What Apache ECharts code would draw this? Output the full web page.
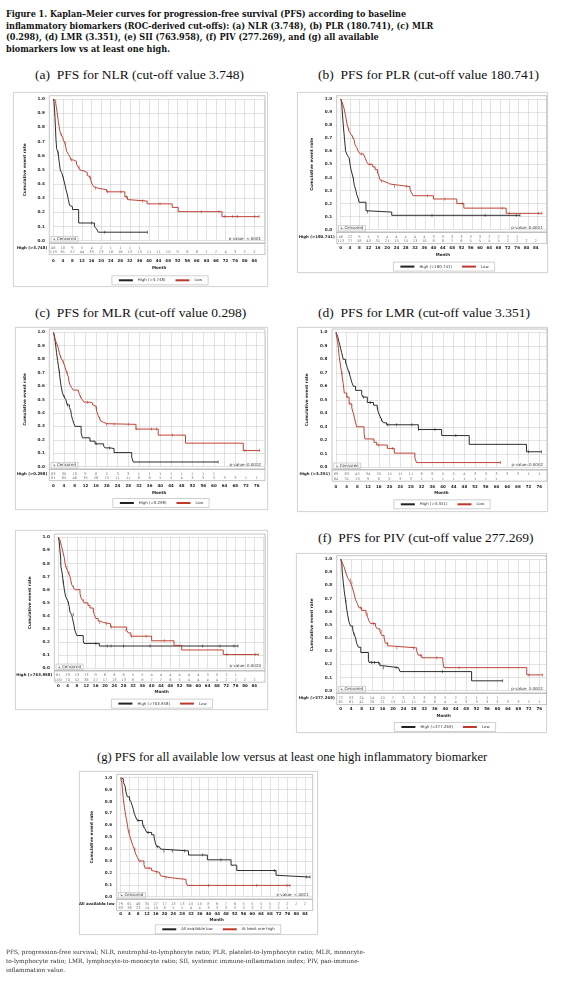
<!DOCTYPE html>
<html>
<head>
<meta charset="utf-8">
<script src="https://cdn.jsdelivr.net/npm/echarts@6/dist/echarts.min.js"></script>
<style>
body{margin:0;background:#fff;width:564px;height:981px;position:relative;overflow:hidden}
.cap{position:absolute;left:6px;top:9px;font:bold 9px/11.7px "DejaVu Serif Condensed","DejaVu Serif",serif;color:#111;white-space:nowrap}
.ttl{position:absolute;font:13.5px/16px "Liberation Serif",serif;color:#111;white-space:nowrap}
.box{position:absolute;border:1px solid #d6d6d6;box-sizing:border-box;background:#fff;box-shadow:0 0 1px #e4e4e4}
.ch{position:absolute}
.foot{position:absolute;left:6px;top:948px;font:5.9px/9px "DejaVu Serif",serif;color:#333;white-space:nowrap;will-change:transform}
</style>
</head>
<body>
<div class="cap">Figure 1. Kaplan–Meier curves for progression-free survival (PFS) according to baseline<br>inflammatory biomarkers (ROC-derived cut-offs): (a) NLR (3.748), (b) PLR (180.741), (c) MLR<br>(0.298), (d) LMR (3.351), (e) SII (763.958), (f) PIV (277.269), and (g) all available<br>biomarkers low vs at least one high.</div>
<div class="ttl" style="left:35px;top:67px">(a)&nbsp; PFS for NLR (cut-off value 3.748)</div>
<div class="ttl" style="left:318px;top:67px">(b)&nbsp; PFS for PLR (cut-off value 180.741)</div>
<div class="ttl" style="left:35px;top:305px">(c)&nbsp; PFS for MLR (cut-off value 0.298)</div>
<div class="ttl" style="left:318px;top:305px">(d)&nbsp; PFS for LMR (cut-off value 3.351)</div>
<div class="ttl" style="left:318px;top:530px">(f)&nbsp; PFS for PIV (cut-off value 277.269)</div>
<div class="ttl" style="left:97px;top:749px;font-size:12.6px">(g) PFS for all available low versus at least one high inflammatory biomarker</div>
<div class="foot">PFS, progression-free survival; NLR, neutrophil-to-lymphocyte ratio; PLR, platelet-to-lymphocyte ratio; MLR, monocyte-<br>to-lymphocyte ratio; LMR, lymphocyte-to-monocyte ratio; SII, systemic immune-inflammation index; PIV, pan-immune-<br>inflammation value.</div>
<script>
// survival curves: [month, survival]; censored marks; numbers at risk every 4 months
const nlrHigh = [[0,1],[0.3,0.98],[0.5,0.93],[0.7,0.87],[0.9,0.8],[1.1,0.72],[1.4,0.65],[2,0.62],[2.5,0.55],[2.9,0.5],[3.5,0.48],[4.2,0.44],[4.8,0.4],[5.3,0.36],[5.8,0.33],[6.3,0.29],[6.8,0.25],[7.3,0.24],[8,0.22],[10.6,0.125],[17.2,0.1],[18,0.085],[18.8,0.06],[39.3,0.06]];
const nlrHighCens = [[2,0.62],[4.2,0.44],[16,0.125],[21.5,0.06],[39.3,0.06]];
const nlrLow = [[0,1],[0.4,0.99],[1,0.97],[1.4,0.93],[1.8,0.88],[2.1,0.84],[2.5,0.8],[2.8,0.77],[3.2,0.75],[3.9,0.73],[4.2,0.71],[4.9,0.69],[5.2,0.66],[5.6,0.63],[6.3,0.61],[7,0.59],[7.4,0.57],[8.4,0.56],[9.7,0.54],[10.4,0.52],[11.1,0.5],[11.8,0.49],[13.2,0.48],[14.2,0.46],[14.8,0.45],[15.6,0.43],[16.2,0.4],[17,0.38],[17.7,0.37],[18.8,0.36],[22.3,0.345],[29.9,0.31],[31,0.29],[31.5,0.28],[39.2,0.26],[49.7,0.235],[52.2,0.205],[70.5,0.17],[86,0.17]];
const nlrLowCens = [[3.3,0.75],[4.9,0.69],[7.6,0.57],[10.8,0.52],[15.2,0.45],[17.7,0.37],[22.6,0.345],[28.3,0.345],[30.5,0.31],[37.3,0.28],[44.6,0.26],[62,0.205],[69.2,0.205],[71.7,0.17],[75,0.17],[77,0.17],[84,0.17],[86,0.17]];
const nlrRiskHigh = [46,18,9,5,4,2,1,1,1,1];
const nlrRiskLow = [119,81,57,44,33,23,18,16,13,13,11,11,10,9,8,8,7,7,4,3,2,2];

const plrHigh = [[0,1],[0.4,0.98],[0.7,0.9],[1.1,0.8],[1.6,0.7],[2.1,0.6],[2.8,0.57],[3.6,0.55],[4,0.5],[4.4,0.46],[5,0.42],[5.4,0.39],[5.8,0.34],[6.5,0.3],[6.8,0.27],[7.5,0.24],[7.8,0.21],[10.8,0.145],[11.4,0.135],[21.8,0.11],[76.6,0.11]];
const plrHighCens = [[5.4,0.39],[11.4,0.135],[39,0.11],[61.7,0.11],[75,0.11],[76.6,0.11]];
const plrLow = [[0,1],[0.7,0.97],[1.4,0.93],[2,0.88],[2.3,0.85],[2.8,0.8],[3.3,0.77],[3.7,0.75],[4.4,0.73],[5.1,0.71],[5.7,0.69],[6.1,0.65],[6.8,0.63],[7.5,0.6],[8.3,0.58],[9.7,0.57],[10.4,0.55],[11.1,0.52],[11.8,0.5],[13.7,0.48],[14.7,0.46],[15.7,0.44],[16.2,0.42],[16.8,0.38],[17.5,0.37],[18.5,0.36],[19.9,0.35],[21,0.345],[22.8,0.33],[29.6,0.31],[30.3,0.28],[31,0.26],[39.6,0.235],[49.6,0.2],[52.6,0.165],[70.7,0.125],[86,0.125]];
const plrLowCens = [[3.5,0.77],[5.1,0.71],[8.8,0.58],[12.5,0.5],[15.9,0.44],[17.5,0.37],[23,0.33],[28,0.33],[37,0.26],[44.5,0.235],[52,0.2],[69,0.165],[72,0.125],[84.5,0.125],[86,0.125]];
const plrRiskHigh = [46,22,9,5,5,4,4,4,4,4,3,3,3,3,3,3,2,2,2,1];
const plrRiskLow = [113,77,58,43,31,21,15,15,13,10,8,8,7,6,5,5,5,5,2,2,2,2];

const mlrHigh = [[0,1],[0.4,0.98],[0.6,0.95],[0.9,0.9],[1.2,0.85],[1.6,0.79],[1.9,0.75],[2.2,0.71],[2.5,0.66],[2.9,0.6],[3.4,0.55],[4,0.52],[4.7,0.5],[5.2,0.46],[6,0.44],[6.5,0.42],[6.8,0.38],[7.2,0.35],[7.7,0.32],[8.1,0.3],[10.4,0.25],[10.9,0.215],[13.7,0.19],[15.6,0.17],[18.8,0.155],[19.3,0.14],[21.2,0.135],[22.7,0.105],[29.3,0.07],[29.9,0.035],[61.6,0.035]];
const mlrHighCens = [[2.3,0.71],[4.1,0.52],[5.3,0.46],[16,0.17],[21,0.14],[61.6,0.035]];
const mlrLow = [[0,1],[0.6,0.95],[1.2,0.92],[1.9,0.88],[2.2,0.85],[2.7,0.82],[3.1,0.8],[3.7,0.78],[4.4,0.74],[5,0.7],[5.6,0.67],[5.9,0.63],[6.2,0.61],[6.8,0.59],[7.5,0.57],[9.3,0.565],[9.7,0.54],[10.2,0.52],[10.8,0.5],[11.5,0.48],[13.7,0.475],[14.7,0.46],[15.2,0.45],[16,0.44],[16.2,0.41],[16.8,0.38],[17.2,0.36],[17.7,0.34],[18.1,0.33],[18.9,0.32],[19.9,0.315],[30.9,0.28],[39.2,0.235],[49.4,0.175],[71,0.12],[77,0.12]];
const mlrLowCens = [[2.7,0.82],[3.7,0.78],[5.2,0.7],[10.2,0.52],[12.7,0.48],[16,0.44],[17.4,0.36],[19.9,0.315],[22.7,0.315],[28,0.315],[30.9,0.28],[36.7,0.28],[38.6,0.28],[44.6,0.235],[71.6,0.12],[77,0.12]];
const mlrRiskHigh = [63,30,19,9,6,5,3,3,1,1,1,1,1,1,1,1];
const mlrRiskLow = [91,65,46,35,26,15,11,11,8,8,5,5,4,3,3,3,3,3,1,1];

const lmrHigh = [[0,1],[0.6,0.97],[1.1,0.93],[1.5,0.9],[2.1,0.85],[2.7,0.8],[3.6,0.78],[4.2,0.74],[4.9,0.7],[5.5,0.66],[5.9,0.63],[6.5,0.6],[7.3,0.57],[9.6,0.54],[10.1,0.52],[11.7,0.48],[14,0.46],[15.4,0.44],[15.8,0.41],[16.4,0.38],[17.1,0.35],[17.7,0.33],[18.9,0.315],[30.8,0.28],[39.5,0.235],[49.8,0.17],[71.2,0.115],[76.8,0.115]];
const lmrHighCens = [[3.6,0.78],[5,0.7],[10.2,0.52],[12.8,0.48],[15.6,0.44],[17,0.35],[19.4,0.315],[22.7,0.315],[28.4,0.315],[30.9,0.28],[37,0.28],[44.8,0.235],[71.9,0.115],[76.8,0.115]];
const lmrLow = [[0,1],[0.1,0.98],[0.6,0.93],[0.9,0.88],[1.2,0.82],[1.7,0.75],[2.1,0.7],[2.7,0.62],[3.1,0.55],[4,0.52],[4.9,0.47],[5.9,0.44],[6.5,0.4],[7.1,0.35],[7.7,0.3],[10.5,0.25],[10.8,0.21],[14.2,0.185],[15.2,0.165],[19.2,0.14],[21.8,0.105],[29.5,0.07],[30.1,0.035],[61.5,0.035]];
const lmrLowCens = [[2.3,0.7],[4.2,0.52],[5.2,0.47],[15.8,0.165],[21.2,0.14],[61.5,0.035]];
const lmrRiskHigh = [89,63,45,34,25,15,11,11,8,8,5,5,4,3,3,3,3,3,1,1];
const lmrRiskLow = [64,31,19,9,6,5,3,3,1,1,1,1,1,1,1,1];

const siiHigh = [[0,1],[0.4,0.97],[0.7,0.9],[1,0.85],[1.1,0.78],[1.7,0.72],[2.1,0.66],[2.6,0.6],[3.1,0.55],[3.9,0.52],[4.3,0.5],[4.7,0.47],[5,0.43],[5.7,0.41],[6.1,0.38],[6.7,0.33],[7.1,0.29],[7.9,0.25],[10.7,0.21],[11,0.19],[17.6,0.17],[77,0.17]];
const siiHighCens = [[2.1,0.66],[4.3,0.5],[6.4,0.41],[16.1,0.19],[21,0.17],[22.6,0.17],[28,0.17],[39.3,0.17],[61.9,0.17],[69.3,0.17],[75.3,0.17],[77,0.17]];
const siiLow = [[0,1],[0.7,0.98],[1.4,0.93],[2.1,0.88],[2.6,0.84],[2.9,0.8],[3.3,0.77],[3.9,0.75],[4.3,0.73],[5,0.7],[5.4,0.67],[5.7,0.64],[6.4,0.62],[7.1,0.6],[9.3,0.57],[9.7,0.54],[10.4,0.52],[11,0.5],[12.7,0.48],[13.6,0.46],[15,0.44],[15.4,0.41],[16.1,0.38],[17.1,0.36],[18.1,0.35],[19.3,0.34],[22.4,0.315],[29.3,0.29],[30,0.27],[31.1,0.245],[40,0.21],[49.6,0.175],[52.9,0.14],[70.7,0.105],[85.7,0.105]];
const siiLowCens = [[3.7,0.77],[4.6,0.73],[6.6,0.62],[10.7,0.52],[15.2,0.44],[17.8,0.35],[20.6,0.34],[22.7,0.315],[29,0.29],[31.3,0.245],[37.6,0.245],[45.4,0.21],[72.3,0.105],[84.4,0.105],[85.7,0.105]];
const siiRiskHigh = [61,29,13,13,9,8,6,6,5,5,4,4,4,4,4,4,3,3,2,1];
const siiRiskLow = [100,70,52,38,27,17,13,13,8,8,7,7,6,5,4,4,4,4,2,2,2,2];

const pivHigh = [[0,1],[0.4,0.97],[0.6,0.9],[1,0.82],[1.4,0.75],[1.9,0.68],[2.3,0.62],[2.7,0.57],[3.2,0.52],[3.8,0.49],[4.6,0.46],[5.1,0.43],[5.7,0.4],[6.1,0.36],[6.8,0.33],[7.7,0.29],[10.6,0.24],[10.8,0.215],[14.2,0.21],[15,0.19],[16,0.175],[22.1,0.16],[22.7,0.145],[50.1,0.075],[62,0.075]];
const pivHighCens = [[2,0.68],[5.1,0.43],[11.8,0.215],[13,0.215],[14.5,0.21],[16.3,0.175],[21.2,0.175],[39,0.145],[62,0.075]];
const pivLow = [[0,1],[0.6,0.97],[1.3,0.94],[1.9,0.9],[2.6,0.86],[3.2,0.84],[3.8,0.82],[4.5,0.78],[5.1,0.74],[5.7,0.69],[6.4,0.66],[7,0.63],[8,0.61],[9.7,0.58],[10.3,0.56],[10.8,0.53],[11.5,0.51],[13.3,0.49],[14,0.47],[15,0.45],[15.7,0.42],[16.6,0.4],[17.1,0.36],[18,0.34],[19.1,0.325],[29.1,0.3],[29.7,0.27],[31,0.25],[39.1,0.22],[39.5,0.175],[71.2,0.12],[77.3,0.12]];
const pivLowCens = [[3.8,0.84],[4.3,0.82],[7.5,0.63],[10.3,0.58],[12.5,0.51],[15.5,0.45],[17.9,0.36],[21.5,0.325],[27.8,0.325],[30.6,0.27],[36.8,0.25],[45.3,0.175],[72,0.12],[77.3,0.12]];
const pivRiskHigh = [72,33,24,14,10,7,3,3,3,3,2,2,2,1,1,1];
const pivRiskLow = [81,61,41,29,21,13,11,11,6,6,4,4,3,3,3,3,3,3,1,1];

const allLow = [[0,1],[0.5,0.99],[1.2,0.96],[2,0.93],[2.4,0.88],[3,0.84],[4,0.82],[4.6,0.8],[5.2,0.77],[5.8,0.73],[6.2,0.7],[6.8,0.67],[7.6,0.64],[9.9,0.62],[10.3,0.59],[11.1,0.57],[11.9,0.54],[14.1,0.52],[15.2,0.5],[15.8,0.45],[16.4,0.42],[17.6,0.41],[18.2,0.4],[19.1,0.385],[30.9,0.35],[39.5,0.31],[50.3,0.265],[52.9,0.22],[70.8,0.18],[71.6,0.165],[86.3,0.165]];
const allLowCens = [[4.1,0.82],[7.9,0.64],[10.6,0.59],[12.5,0.54],[16.7,0.42],[19.7,0.385],[23.5,0.385],[29,0.385],[37.4,0.35],[45.7,0.31],[70,0.22],[84.6,0.165],[86.3,0.165]];
const anyHigh = [[0,1],[0.5,0.96],[0.8,0.9],[1.2,0.82],[1.7,0.75],[2.3,0.68],[3,0.61],[3.5,0.55],[4.3,0.5],[5,0.46],[5.5,0.43],[6.2,0.4],[6.8,0.36],[7.6,0.33],[8.4,0.3],[10.6,0.27],[11.1,0.24],[14.1,0.22],[14.9,0.205],[17.6,0.19],[18.2,0.175],[19.1,0.16],[22.9,0.145],[29.8,0.12],[30.4,0.095],[77.2,0.095]];
const anyHighCens = [[4.1,0.55],[6.5,0.4],[8.8,0.3],[12.9,0.24],[16.2,0.205],[20.6,0.16],[40,0.095],[62,0.095],[75.8,0.095],[77.2,0.095]];
const allRiskLow = [79,61,46,35,27,17,13,13,10,10,8,8,7,6,5,5,5,5,2,2,2,2];
const allRiskHigh = [83,38,23,14,10,8,5,5,4,4,3,3,3,3,3,3,2,2,2,1];

const FONT = 'DejaVu Sans';
const BLACK = '#222', RED = '#bd3a2c';
const PAD = 14;

const meas = document.createElement('canvas').getContext('2d');
function textW(s, size) {
    meas.font = size + 'px "' + FONT + '"';
    return meas.measureText(s).width;
}

// lay: page px of box, x=0 / last tick, frame right, y=1 / y=0, label rows
function drawPanel(p) {
    const L = p.lay;
    const ox = L.box[0] - PAD, oy = L.box[1];
    const W = L.box[2] - ox, H = L.box[3] - oy;

    const box = document.createElement('div');
    box.className = 'box';
    box.style.cssText = 'left:' + L.box[0] + 'px;top:' + L.box[1] + 'px;width:' + (L.box[2] - L.box[0]) + 'px;height:' + H + 'px';
    document.body.appendChild(box);
    const el = document.createElement('div');
    el.className = 'ch';
    el.style.cssText = 'left:' + ox + 'px;top:' + oy + 'px;width:' + W + 'px;height:' + H + 'px';
    document.body.appendChild(el);

    const x0 = L.x0 - ox;
    const right = L.box[2] - L.frameR;
    const pxm = (L.xLast - L.x0) / p.last;
    const xMax = (L.frameR - L.x0) / pxm;
    const y1 = L.y1 - oy, y0 = L.y0 - oy;
    const fTop = y1 - 3.3, fBot = y0 + 2.5;
    const rH = y0 + 7, rL = y0 + 11.3, tBot = rL + 2.6;
    const tdTop = rH - 2.15, tdBot = rL + 2.15;

    const lfs = 3.9;
    const lw = 12 + 2 * (14 + 3) + textW(p.names[0], lfs) + 9 + textW(p.names[1], lfs);

    const hidden = {show: false, min: 0, max: 1};
    const chart = echarts.init(el);
    chart.setOption({
        animation: false,
        textStyle: {fontFamily: FONT},
        grid: [
            {left: x0 - 4, top: fTop, right: right, height: fBot - fTop, show: true, borderColor: '#a0a0a0', borderWidth: 0.6},
            {left: x0, top: y1, right: right, height: y0 - y1},
            {left: x0 - 4, top: fBot, right: right, height: tBot - fBot, show: true, borderColor: '#a0a0a0', borderWidth: 0.6},
            {left: x0, top: tdTop, right: right, height: tdBot - tdTop}
        ],
        xAxis: [
            Object.assign({gridIndex: 0, type: 'value'}, hidden),
            {gridIndex: 1, type: 'value', min: 0, max: xMax, interval: 4,
                axisLine: {show: false}, axisTick: {show: false}, axisLabel: {show: false},
                splitLine: {lineStyle: {color: '#cfcfcf', width: 0.6}}},
            Object.assign({gridIndex: 2, type: 'value'}, hidden),
            {gridIndex: 3, type: 'value', min: 0, max: xMax, interval: 4,
                axisLine: {show: false}, axisTick: {show: false}, splitLine: {show: false},
                axisLabel: {showMaxLabel: false, fontSize: 4, fontWeight: 'bold', color: '#222',
                    margin: (L.labelY - oy) - 2 - tdBot,
                    formatter: v => (v <= p.last ? String(v) : '')},
                name: 'Month', nameLocation: 'middle', nameGap: (L.monthY - oy) - 2 - tdBot,
                nameTextStyle: {fontSize: 4, fontWeight: 'bold', color: '#222'}}
        ],
        yAxis: [
            Object.assign({gridIndex: 0, type: 'value'}, hidden),
            {gridIndex: 1, type: 'value', min: 0, max: 1, interval: 0.1,
                axisLine: {show: false}, axisTick: {show: false},
                axisLabel: {fontSize: 4.2, fontWeight: 'bold', color: '#333', margin: 8.5,
                    formatter: v => v.toFixed(1)},
                splitLine: {lineStyle: {color: '#cfcfcf', width: 0.6}},
                name: 'Cumulative event rate', nameLocation: 'middle', nameGap: 20,
                nameTextStyle: {fontSize: 4.2, fontWeight: 'bold', color: '#222'}},
            Object.assign({gridIndex: 2, type: 'value'}, hidden),
            {gridIndex: 3, type: 'category', inverse: true, data: p.rows,
                axisLine: {show: false}, axisTick: {show: false},
                axisLabel: {fontSize: 3.9, fontWeight: 'bold', color: '#222', margin: 6}}
        ],
        legend: {
            data: p.names, left: L.legendX - ox - lw / 2, top: L.legendY - oy - 4.2,
            itemWidth: 14, itemHeight: 1, itemGap: 9, padding: [2.5, 6],
            borderColor: '#a0a0a0', borderWidth: 0.5,
            textStyle: {fontSize: lfs, color: '#333'}
        },
        graphic: [
            {type: 'group', left: x0 - 2.5, top: fBot - 7, children: [
                {type: 'rect', shape: {x: 0, y: 0, width: 27, height: 5.6},
                    style: {fill: '#fff', stroke: '#a0a0a0', lineWidth: 0.5}},
                {type: 'text', x: 1.8, y: 2.9, style: {text: '▲', fontSize: 3, fill: '#2f5fc0', verticalAlign: 'middle'}},
                {type: 'text', x: 6, y: 2.9, style: {text: 'Censored', fontSize: 4, fill: '#333', verticalAlign: 'middle', fontFamily: FONT}}
            ]},
            {type: 'text', right: right + 4, top: y0 - 4.2,
                style: {text: p.pval, fontSize: 4, fill: '#333', fontFamily: FONT}}
        ],
        series: [
            {name: p.names[0], type: 'line', step: 'end', xAxisIndex: 1, yAxisIndex: 1, data: p.curves[0],
                symbol: 'none', color: BLACK, lineStyle: {width: 0.95}},
            {name: p.names[1], type: 'line', step: 'end', xAxisIndex: 1, yAxisIndex: 1, data: p.curves[1],
                symbol: 'none', color: RED, lineStyle: {width: 0.95}},
            {type: 'scatter', xAxisIndex: 1, yAxisIndex: 1, data: p.cens[0], symbol: 'rect',
                symbolSize: [0.7, 3], color: BLACK, silent: true},
            {type: 'scatter', xAxisIndex: 1, yAxisIndex: 1, data: p.cens[1], symbol: 'rect',
                symbolSize: [0.7, 3], color: RED, silent: true},
            riskSeries(p.risk[0], 0),
            riskSeries(p.risk[1], 1)
        ]
    });
}

function riskSeries(vals, row) {
    return {type: 'scatter', xAxisIndex: 3, yAxisIndex: 3, symbolSize: 0, silent: true,
        data: vals.map((v, i) => [i * 4, row, v]),
        label: {show: true, position: 'inside', fontSize: 3.6, color: '#555',
            formatter: q => q.value[2]}};
}

drawPanel({names: ['High (>3.748)', 'Low'], rows: ['High (>3.748)', 'Low'], pval: 'p-value: <.0001', last: 84,
    curves: [nlrHigh, nlrLow], cens: [nlrHighCens, nlrLowCens], risk: [nlrRiskHigh, nlrRiskLow],
    lay: {box: [13, 92, 268, 287], x0: 53.3, xLast: 254.3, frameR: 265, y1: 99, y0: 240.7, labelY: 261, monthY: 268, legendY: 280, legendX: 157}});
drawPanel({names: ['High (>180.741)', 'Low'], rows: ['High (>180.741)', 'Low'], pval: 'p-value: 0.0001', last: 84,
    curves: [plrHigh, plrLow], cens: [plrHighCens, plrLowCens], risk: [plrRiskHigh, plrRiskLow],
    lay: {box: [297, 92, 548, 273], x0: 340.7, xLast: 537.3, frameR: 546.7, y1: 99, y0: 229.7, labelY: 248, monthY: 254.7, legendY: 266.3, legendX: 441}});
drawPanel({names: ['High (>0.298)', 'Low'], rows: ['High (>0.298)', 'Low'], pval: 'p-value: 0.0002', last: 76,
    curves: [mlrHigh, mlrLow], cens: [mlrHighCens, mlrLowCens], risk: [mlrRiskHigh, mlrRiskLow],
    lay: {box: [15, 327, 268, 510], x0: 53.3, xLast: 256.7, frameR: 265, y1: 332.3, y0: 466.7, labelY: 485.7, monthY: 493.3, legendY: 502.7, legendX: 158}});
drawPanel({names: ['High (>3.351)', 'Low'], rows: ['High (>3.351)', 'Low'], pval: 'p-value: 0.0002', last: 76,
    curves: [lmrHigh, lmrLow], cens: [lmrHighCens, lmrLowCens], risk: [lmrRiskHigh, lmrRiskLow],
    lay: {box: [297, 327, 548, 512], x0: 336, xLast: 539.3, frameR: 547, y1: 332.3, y0: 467.3, labelY: 486.7, monthY: 493.3, legendY: 504, legendX: 439}});
drawPanel({names: ['High (>763.958)', 'Low'], rows: ['High (>763.958)', 'Low'], pval: 'p-value: 0.0020', last: 84,
    curves: [siiHigh, siiLow], cens: [siiHighCens, siiLowCens], risk: [siiRiskHigh, siiRiskLow],
    lay: {box: [15, 530, 268, 710], x0: 58.3, xLast: 254.3, frameR: 265, y1: 537.3, y0: 668.3, labelY: 685.7, monthY: 691.7, legendY: 703.3, legendX: 159}});
drawPanel({names: ['High (>277.269)', 'Low'], rows: ['High (>277.269)', 'Low'], pval: 'p-value: 0.0002', last: 76,
    curves: [pivHigh, pivLow], cens: [pivHighCens, pivLowCens], risk: [pivRiskHigh, pivRiskLow],
    lay: {box: [296, 553, 547, 733], x0: 340.7, xLast: 539.3, frameR: 546.7, y1: 559, y0: 690.7, labelY: 709.3, monthY: 716, legendY: 726.7, legendX: 442}});
drawPanel({names: ['All available low', 'At least one high'], rows: ['All available low', 'At least one high'], pval: 'p-value: <.0001', last: 84,
    curves: [allLow, anyHigh], cens: [allLowCens, anyHighCens], risk: [allRiskLow, allRiskHigh],
    lay: {box: [79, 771, 318, 935], x0: 120.7, xLast: 305, frameR: 312.7, y1: 777.7, y0: 896.7, labelY: 914, monthY: 920, legendY: 929, legendX: 215}});
</script>
</body>
</html>
